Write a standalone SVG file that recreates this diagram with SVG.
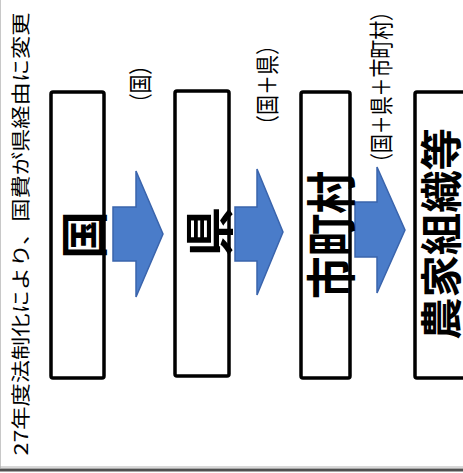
<svg xmlns="http://www.w3.org/2000/svg" width="463" height="473" viewBox="0 0 463 473">
<style>
.box{fill:#ffffff;stroke:#000000;stroke-width:3.5}
.arrow{fill:#4a7cc9;stroke:#3a64ac;stroke-width:1.5;stroke-linejoin:miter}
text{font-family:"Noto Sans CJK JP","Noto Sans CJK SC",sans-serif;fill:#000;text-anchor:middle;dominant-baseline:central}
.big{font-weight:700}
.small{font-size:24px}
</style>
<rect x="0" y="0" width="463" height="473" fill="#ffffff"/>
<line x1="0.5" y1="0" x2="0.5" y2="468" stroke="#c8c8c8" stroke-width="1"/>
<line x1="0" y1="467" x2="463" y2="467" stroke="#b0b0b0" stroke-width="1"/>
<line x1="0" y1="470" x2="463" y2="470" stroke="#505050" stroke-width="3"/>
<g id="note">
<text transform="translate(19,234) rotate(-90)" font-size="19" textLength="443" lengthAdjust="spacingAndGlyphs">27年度法制化により、国費が県経由に変更</text>
</g>
<g id="connectors">
<path class="arrow" d="M113,207 L136,207 L136,171 L163,234 L136,297 L136,261 L113,261 Z"/>
<path class="arrow" d="M235,207 L257,207 L257,169 L283,232 L257,295 L257,261 L235,261 Z"/>
<path class="arrow" d="M355,202 L377,202 L377,167 L405,230 L377,293 L377,257 L355,257 Z"/>
<text class="small" transform="translate(138,84) rotate(-90)" textLength="56" lengthAdjust="spacingAndGlyphs">（国）</text>
<text class="small" transform="translate(265,85) rotate(-90)" textLength="100" lengthAdjust="spacingAndGlyphs">（国＋県）</text>
<text class="small" transform="translate(379,87) rotate(-90)" textLength="170" lengthAdjust="spacingAndGlyphs">（国＋県＋市町村）</text>
</g>
<g id="node-kuni">
<rect class="box" x="51" y="92" width="53" height="286" rx="2"/>
<text class="big" transform="translate(81,235) rotate(-90)" font-size="48">国</text>
</g>
<g id="node-ken">
<rect class="box" x="175" y="91" width="54" height="285" rx="2"/>
<text class="big" transform="translate(206,232) rotate(-90)" font-size="50">県</text>
</g>
<g id="node-shichoson">
<rect class="box" x="301" y="92" width="49" height="286" rx="2"/>
<text class="big" transform="translate(328,235) rotate(-90)" font-size="50" textLength="128" lengthAdjust="spacingAndGlyphs">市町村</text>
</g>
<g id="node-noka">
<rect class="box" x="415" y="92" width="60" height="286" rx="2"/>
<text class="big" transform="translate(438,234) rotate(-90)" font-size="42" textLength="212" lengthAdjust="spacingAndGlyphs">農家組織等</text>
</g>
</svg>
